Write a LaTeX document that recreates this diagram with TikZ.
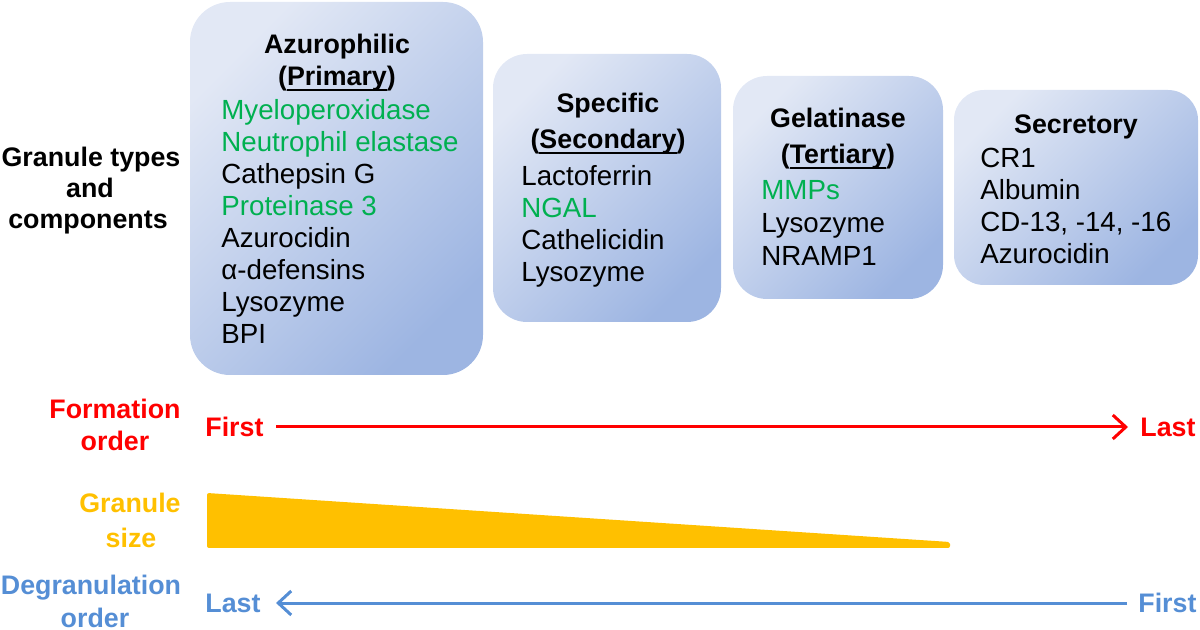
\documentclass[tikz,border=0pt]{standalone}
\usepackage{fontspec}
\setmainfont{Liberation Sans}
\usetikzlibrary{arrows.meta}
\definecolor{pgreen}{HTML}{00B050}
\definecolor{pred}{HTML}{FF0000}
\definecolor{porange}{HTML}{FFC000}
\definecolor{pblue}{HTML}{558ED5}
\definecolor{boxlight}{HTML}{E2E8F5}
\definecolor{boxmid}{HTML}{D0DAF0}
\definecolor{boxdark}{HTML}{9DB5E2}
\tikzset{
  granbox/.style={top color=boxlight, middle color=boxmid, bottom color=boxdark, shading angle=45},
  txt/.style={inner sep=0pt, font=\fontsize{13.85}{16}\selectfont},
  btxt/.style={inner sep=0pt, font=\fontsize{13.4}{16}\selectfont\bfseries},
  item/.style={txt, anchor=base west},
  title/.style={btxt, anchor=base},
  lbl/.style={btxt, anchor=base},
  axisarrow/.style={line width=1.5pt, -{Straight Barb[length=6.5pt,width=12pt,line width=1.5pt]}},
}
\newcommand{\grn}[1]{\textcolor{pgreen}{#1}}
\newcommand{\ulw}[1]{\setbox0=\hbox{#1}\rlap{\rule[-2.4pt]{\wd0}{0.9pt}}\box0}
\begin{document}
\begin{tikzpicture}[x=0.5pt,y=-0.5pt]
\useasboundingbox (0,0) rectangle (1200,630);
% boxes
\shade[granbox, rounded corners=20pt] (190,2) rectangle (483,375);
\shade[granbox, rounded corners=17pt] (493,54) rectangle (721,322);
\shade[granbox, rounded corners=17pt] (733,76) rectangle (943,299);
\shade[granbox, rounded corners=15pt] (954,90) rectangle (1198,285);
% box 1
\node[title] (t1a) at (337,54) {Azurophilic};
\node[title] (t1b) at (337,86) {(\ulw{Primary})};
\node[item] (a1) at (221,120) {\grn{Myeloperoxidase}};
\node[item] (a2) at (221,152) {\grn{Neutrophil elastase}};
\node[item] (a3) at (221,184) {Cathepsin G};
\node[item] (a4) at (221,216) {\grn{Proteinase 3}};
\node[item] (a5) at (221,248) {Azurocidin};
\node[item] (a6) at (221,280) {α-defensins};
\node[item] (a7) at (221,312) {Lysozyme};
\node[item] (a8) at (221,344) {BPI};
% box 2
\node[title] (t2a) at (608,113) {Specific};
\node[title] (t2b) at (608,149) {(\ulw{Secondary})};
\node[item] (b1) at (521,186) {Lactoferrin};
\node[item] (b2) at (521,218) {\grn{NGAL}};
\node[item] (b3) at (521,250) {Cathelicidin};
\node[item] (b4) at (521,282) {Lysozyme};
% box 3
\node[title] (t3a) at (838,128) {Gelatinase};
\node[title] (t3b) at (838,164) {(\ulw{Tertiary})};
\node[item] (c1) at (761,200) {\grn{MMPs}};
\node[item] (c2) at (761,233) {Lysozyme};
\node[item] (c3) at (761,266) {NRAMP1};
% box 4
\node[title] (t4a) at (1076,134) {Secretory};
\node[item] (d1) at (980,168) {CR1};
\node[item] (d2) at (980,200) {Albumin};
\node[item] (d3) at (980,232) {CD-13, -14, -16};
\node[item] (d4) at (980,264) {Azurocidin};
% left labels
\node[lbl] (g1) at (91,167) {Granule types};
\node[lbl] (g2) at (90,198) {and};
\node[lbl] (g3) at (88,229) {components};
\node[lbl, text=pred] (f1) at (115,419) {Formation};
\node[lbl, text=pred] (f2) at (115,451) {order};
\node[lbl, text=porange] (s1) at (130,513) {Granule};
\node[lbl, text=porange] (s2) at (131,547) {size};
\node[lbl, text=pblue] (o1) at (91,595) {Degranulation};
\node[lbl, text=pblue] (o2) at (95,627) {order};
% formation arrow
\node[btxt, text=pred, anchor=base west] (ffirst) at (205,437) {First};
\node[btxt, text=pred, anchor=base west] (flast) at (1140,437) {Last};
\coordinate (fa) at (276,427);
\coordinate (fb) at (1128,427);
\draw[axisarrow, draw=pred] (fa) -- (fb);
% granule size wedge
\fill[porange, rounded corners=1pt] (207,493) -- (950,542) -- (950,548) -- (207,548) -- cycle;
% degranulation arrow
\node[btxt, text=pblue, anchor=base west] (dlast) at (205,612) {Last};
\node[btxt, text=pblue, anchor=base west] (dfirst) at (1138,612) {First};
\coordinate (da) at (1127,603);
\coordinate (db) at (276,603);
\draw[axisarrow, draw=pblue] (da) -- (db);
\end{tikzpicture}
\end{document}
